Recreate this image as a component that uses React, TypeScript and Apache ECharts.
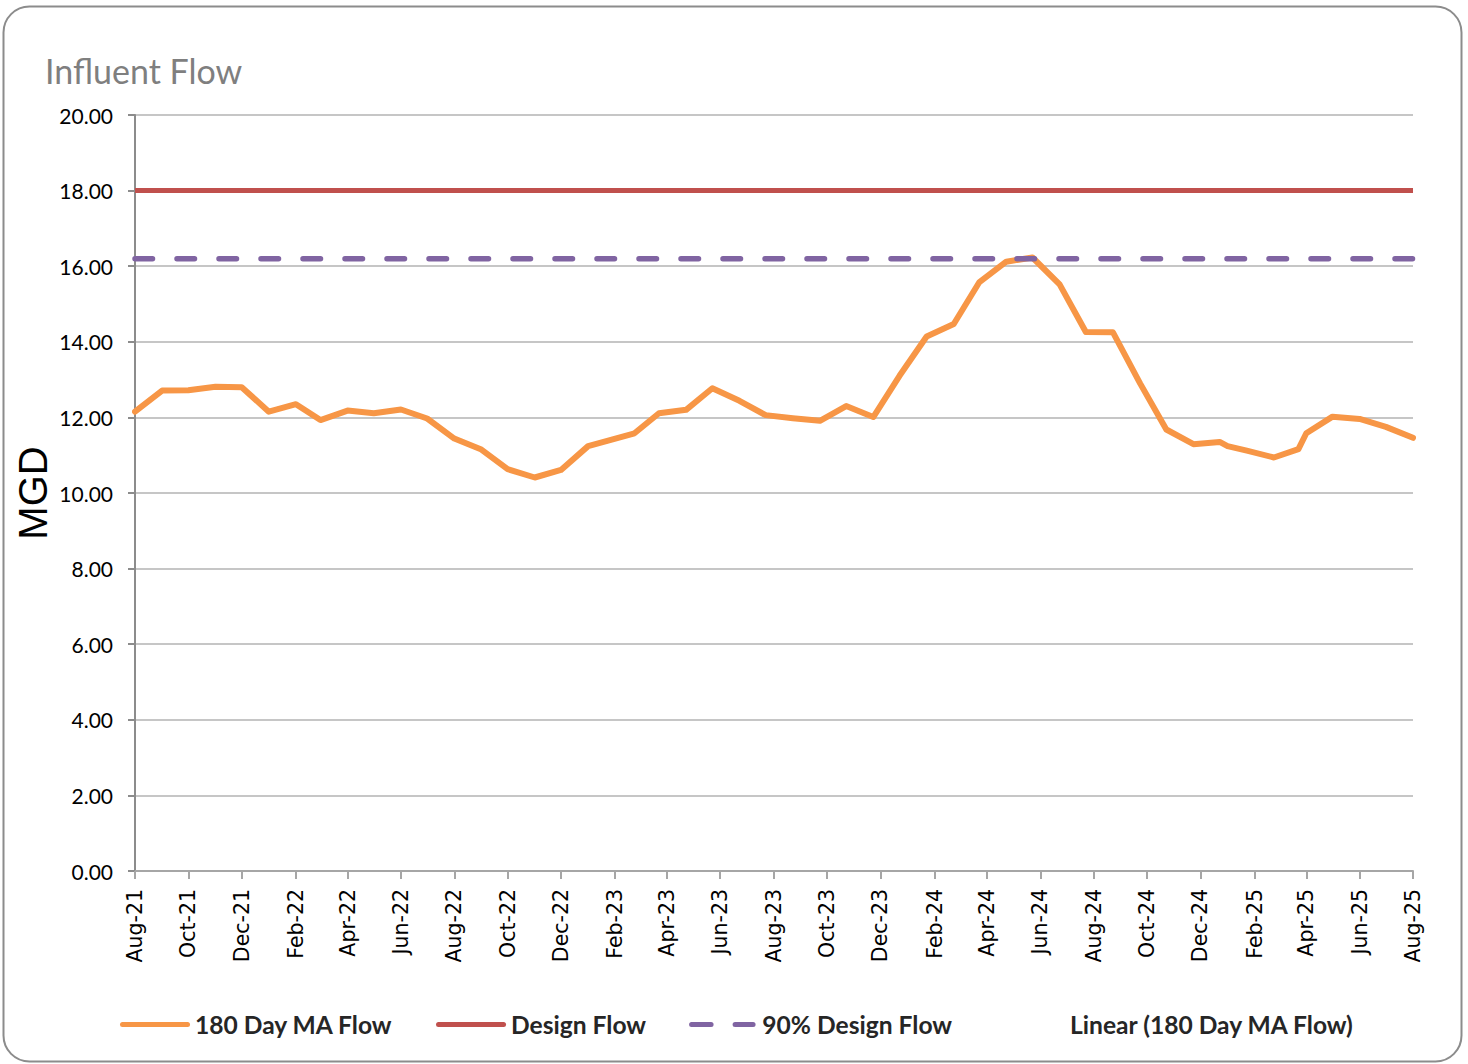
import React, { useEffect, useRef } from "react";
import * as echarts from "echarts";

// ---- Data ----
const flowDates: string[] = [
  "2021-08-01", "2021-09-01", "2021-10-01", "2021-11-01", "2021-12-01",
  "2022-01-01", "2022-02-01", "2022-03-01", "2022-04-01", "2022-05-01",
  "2022-06-01", "2022-07-01", "2022-08-01", "2022-09-01", "2022-10-01",
  "2022-11-01", "2022-12-01", "2023-01-01", "2023-02-23", "2023-03-23",
  "2023-04-23", "2023-05-23", "2023-06-23", "2023-07-23", "2023-08-23",
  "2023-09-23", "2023-10-23", "2023-11-23", "2023-12-23", "2024-01-23",
  "2024-02-23", "2024-03-23", "2024-04-23", "2024-05-23", "2024-06-23",
  "2024-07-23", "2024-08-23", "2024-09-23", "2024-10-23", "2024-11-23",
  "2024-12-23", "2025-01-01", "2025-01-23", "2025-02-23", "2025-03-23",
  "2025-04-01", "2025-05-01", "2025-06-01", "2025-07-01", "2025-08-01",
];
const flowValues: number[] = [
  12.15, 12.71, 12.72, 12.81, 12.8,
  12.15, 12.35, 11.93, 12.18, 12.11,
  12.21, 11.97, 11.44, 11.15, 10.63,
  10.41, 10.61, 11.24, 11.58, 12.11,
  12.2, 12.77, 12.44, 12.06, 11.98,
  11.91, 12.3, 12.01, 13.1, 14.14,
  14.47, 15.57, 16.12, 16.23, 15.52,
  14.26, 14.25, 12.9, 11.68, 11.29,
  11.35, 11.24, 11.12, 10.94, 11.16,
  11.58, 12.02, 11.96, 11.75, 11.46,
];
const designFlowValue = 18;
const designFlow90Value = 16.2;
const axisStart = "2021-08-01";
const axisEnd = "2025-08-01";
const xTickDates: string[] = [
  "2021-08-01", "2021-10-01", "2021-12-01", "2022-02-01", "2022-04-01",
  "2022-06-01", "2022-08-01", "2022-10-01", "2022-12-01", "2023-02-01",
  "2023-04-01", "2023-06-01", "2023-08-01", "2023-10-01", "2023-12-01",
  "2024-02-01", "2024-04-01", "2024-06-01", "2024-08-01", "2024-10-01",
  "2024-12-01", "2025-02-01", "2025-04-01", "2025-06-01", "2025-08-01",
];
const monthNames: string[] = [
  "Jan", "Feb", "Mar", "Apr", "May", "Jun", "Jul", "Aug", "Sep", "Oct", "Nov", "Dec",
];
const seriesNames: string[] = [
  "180 Day MA Flow", "Design Flow", "90% Design Flow", "Linear (180 Day MA Flow)",
];
const seriesColors: string[] = ["#f79646", "#c0504d", "#8064a2", "rgba(255,255,255,0)"];
const yMin = 0;
const yMax = 20;
const yInterval = 2;

function ts(d: string): number {
  const [y, m, dd] = d.split("-").map(Number);
  return Date.UTC(y, m - 1, dd);
}
function fmtMonth(v: number): string {
  const d = new Date(v);
  return monthNames[d.getUTCMonth()] + "-" + String(d.getUTCFullYear() % 100).padStart(2, "0");
}

const solidIcon = "path://M2.5,0 H67.5 A2.5,2.5 0 0 1 67.5,5 H2.5 A2.5,2.5 0 0 1 2.5,0 Z";
const dashIcon =
  "path://M2.5,0 H22 A2.5,2.5 0 0 1 22,5 H2.5 A2.5,2.5 0 0 1 2.5,0 Z M46,0 H64 A2.5,2.5 0 0 1 64,5 H46 A2.5,2.5 0 0 1 46,0 Z";

export default function App() {
  const ref = useRef<HTMLDivElement | null>(null);
  useEffect(() => {
    if (!ref.current) return;
    const chart = echarts.init(ref.current, null, { renderer: "svg" });
    const xMin = ts(axisStart);
    const xMax = ts(axisEnd);
    const tickVals = xTickDates.map(ts);
    const flowData = flowDates.map((d, i) => [ts(d), flowValues[i]]);
    const option: any = {
      animation: false,
      backgroundColor: "#ffffff",
      title: {
        text: "Influent Flow",
        left: 40,
        top: 48,
        textStyle: { fontFamily: "Lato", fontSize: 34, fontWeight: "normal", color: "#7f7f7f" },
      },
      grid: { left: 135, right: 55, top: 115, bottom: 193, containLabel: false },
      legend: {
        left: 115,
        top: 1007,
        itemWidth: 70,
        itemHeight: 5,
        itemGap: 43,
        data: seriesNames.map((n, i) => ({
          name: n,
          icon: i === 2 ? dashIcon : solidIcon,
          itemStyle: { color: seriesColors[i] },
        })),
        textStyle: { fontFamily: "Lato", fontWeight: "bold", fontSize: 24.6, color: "#262626" },
      },
      xAxis: {
        type: "value",
        min: xMin,
        max: xMax,
        splitLine: { show: false },
        axisLine: { show: true, onZero: false, lineStyle: { color: "#a6a6a6", width: 2 } },
        axisTick: {
          show: true,
          customValues: tickVals,
          length: 8,
          lineStyle: { color: "#a6a6a6", width: 2 },
        },
        axisLabel: {
          customValues: tickVals,
          rotate: 90,
          margin: 18,
          fontFamily: "DejaVu Sans",
          fontSize: 20.5,
          color: "#000000",
          formatter: (v: number) => fmtMonth(v),
        },
      },
      yAxis: {
        type: "value",
        min: yMin,
        max: yMax,
        interval: yInterval,
        axisLine: { show: true, lineStyle: { color: "#8c8c8c", width: 2 } },
        axisTick: { show: true, length: 7, lineStyle: { color: "#8c8c8c", width: 2 } },
        splitLine: { show: true, lineStyle: { color: "#b3b3b3", width: 1.6 } },
        axisLabel: {
          margin: 22,
          fontFamily: "Lato",
          fontSize: 21,
          color: "#000000",
          formatter: (v: number) => v.toFixed(2),
        },
      },
      series: [
        {
          name: seriesNames[0],
          type: "line",
          data: flowData,
          symbol: "none",
          color: seriesColors[0],
          lineStyle: { color: seriesColors[0], width: 6, join: "round", cap: "round" },
        },
        {
          name: seriesNames[1],
          type: "line",
          data: [[xMin, designFlowValue], [xMax, designFlowValue]],
          symbol: "none",
          color: seriesColors[1],
          lineStyle: { color: seriesColors[1], width: 5 },
        },
        {
          name: seriesNames[2],
          type: "line",
          data: [[xMin, designFlow90Value], [xMax, designFlow90Value]],
          symbol: "none",
          color: seriesColors[2],
          lineStyle: { color: seriesColors[2], width: 5.5, type: [17.5, 24.5], cap: "round" },
        },
        {
          name: seriesNames[3],
          type: "line",
          data: [],
          symbol: "none",
          color: seriesColors[3],
          lineStyle: { color: seriesColors[3], width: 0 },
        },
      ],
      graphic: [
        {
          type: "rect",
          shape: { x: 3.5, y: 6.5, width: 1458, height: 1055, r: 26 },
          style: { fill: "none", stroke: "#8c8c8c", lineWidth: 2 },
          z: -1,
          silent: true,
        },
        {
          type: "text",
          x: 33,
          y: 493,
          rotation: Math.PI / 2,
          style: {
            text: "MGD",
            fontFamily: "Liberation Sans",
            fontSize: 40,
            fill: "#000000",
            align: "center",
            verticalAlign: "middle",
          },
          silent: true,
        },
      ],
    };
    chart.setOption(option);
    return () => chart.dispose();
  }, []);
  return (
    <div
      ref={ref}
      style={{ position: "fixed", left: 0, top: 0, width: 1468, height: 1064 }}
    />
  );
}
